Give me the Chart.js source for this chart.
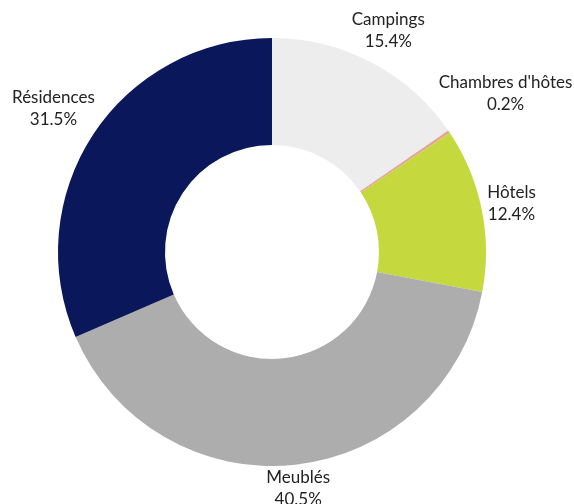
<!DOCTYPE html>
<html>
<head>
<meta charset="utf-8">
<script src="https://cdn.jsdelivr.net/npm/chart.js@4/dist/chart.umd.min.js"></script>
<style>
  html, body { margin: 0; padding: 0; background: #fff; }
  #wrap { width: 574px; height: 504px; }
</style>
</head>
<body>
<div id="wrap"><canvas id="c" width="574" height="504"></canvas></div>
<script>
var categories = ['Campings', "Chambres d'hôtes", 'Hôtels', 'Meublés', 'Résidences'];
var shares = [15.4, 0.2, 12.4, 40.5, 31.5];
var colors = ['#ededed', '#e3a39a', '#c5d93e', '#adadad', '#0a175a'];

var FONT = '17px Lato';
var LINE = 22;

// labels outside each slice, pushed out so the text box clears the ring
var outsideLabels = {
    id: 'outsideLabels',
    afterDraw: function(chart) {
        var ctx = chart.ctx;
        var meta = chart.getDatasetMeta(0);
        ctx.save();
        ctx.font = FONT;
        ctx.fillStyle = '#222';
        ctx.textAlign = 'center';
        ctx.textBaseline = 'middle';
        meta.data.forEach(function(arc, i) {
            var p = arc.getProps(['x', 'y', 'startAngle', 'endAngle', 'outerRadius'], true);
            var mid = (p.startAngle + p.endAngle) / 2;
            var line1 = categories[i];
            var line2 = shares[i].toFixed(1) + '%';
            var w = Math.max(ctx.measureText(line1).width, ctx.measureText(line2).width);
            var h = LINE * 2 - 8;
            var c = Math.cos(mid), s = Math.sin(mid);
            var r = p.outerRadius + 3 + Math.abs(c) * w / 2 + Math.abs(s) * h / 2;
            var x = p.x + c * r;
            var y = p.y + s * r;
            ctx.fillText(line1, x, y - LINE / 2);
            ctx.fillText(line2, x, y + LINE / 2);
        });
        ctx.restore();
    }
};

var chart = new Chart(document.getElementById('c').getContext('2d'), {
    type: 'doughnut',
    data: {
        labels: categories,
        datasets: [{
            data: shares,
            backgroundColor: colors,
            borderWidth: 0,
            hoverOffset: 0,
            offset: 0
        }]
    },
    options: {
        responsive: false,
        animation: false,
        cutout: '50%',
        layout: { padding: { top: 38, bottom: 38, left: 58, right: 88 } },
        plugins: {
            legend: { display: false },
            tooltip: { enabled: false }
        }
    },
    plugins: [outsideLabels]
});
</script>
</body>
</html>
